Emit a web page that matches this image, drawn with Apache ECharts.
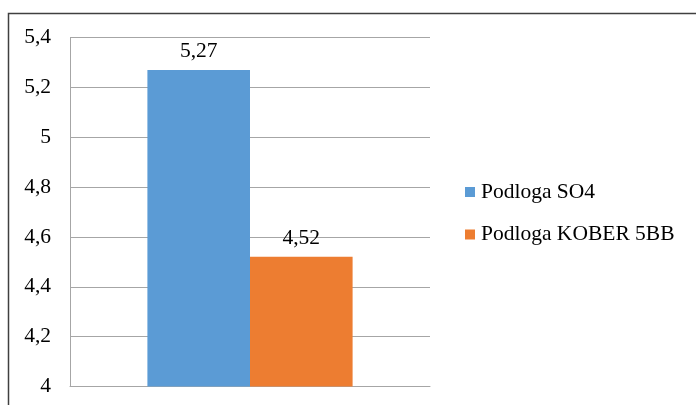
<!DOCTYPE html>
<html><head><meta charset="utf-8">
<script src="https://cdn.jsdelivr.net/npm/echarts@6/dist/echarts.min.js"></script>
<style>html,body{margin:0;padding:0;background:#fff}#c{width:696px;height:405px}</style>
</head><body><div id="c"></div>
<script>
const categories = ['Podloga'];
const seriesNames = ['Podloga SO4', 'Podloga KOBER 5BB'];
const so4Values = [5.27];
const koberValues = [4.52];
const colors = ['#5b9bd5', '#ed7d31'];

const chart = echarts.init(document.getElementById('c'), null, {renderer: 'canvas'});
const font = '"Liberation Serif", "Times New Roman", serif';
const fs = 21.5;
const fmt = v => String(v).replace('.', ',');
chart.setOption({
  animation: false,
  textStyle: {fontFamily: font},
  graphic: [{
    type: 'polyline', silent: true,
    shape: {points: [[8.5, 420], [8.5, 13.5], [700, 13.5]]},
    style: {stroke: '#404040', lineWidth: 1.5, fill: null}
  }],
  grid: {left: 70, right: 266, top: 37.5, bottom: 18.5, containLabel: false},
  legend: {
    orient: 'vertical', left: 460, top: 176, itemGap: 20.5,
    itemWidth: 10, itemHeight: 10, icon: 'rect',
    textStyle: {fontFamily: font, fontSize: fs, color: '#000', padding: [0, 0, 0, 1]},
    data: seriesNames
  },
  xAxis: {
    type: 'category', data: categories,
    axisLine: {lineStyle: {color: '#a6a6a6'}},
    axisTick: {show: false}, axisLabel: {show: false}
  },
  yAxis: {
    type: 'value', min: 4, max: 5.4, interval: 0.2,
    axisLine: {show: true, lineStyle: {color: '#a6a6a6'}},
    axisTick: {show: false},
    splitLine: {lineStyle: {color: '#a6a6a6'}},
    axisLabel: {fontFamily: font, fontSize: fs, color: '#000', margin: 19,
      formatter: v => fmt(Math.round(v * 10) / 10)}
  },
  series: [
    {name: seriesNames[0], type: 'bar', data: so4Values, barGap: '0%', barCategoryGap: '43%',
     itemStyle: {color: colors[0]},
     label: {show: true, position: 'top', distance: 8, fontFamily: font, fontSize: fs, color: '#000', formatter: p => fmt(p.value)}},
    {name: seriesNames[1], type: 'bar', data: koberValues, barGap: '0%', barCategoryGap: '43%',
     itemStyle: {color: colors[1]},
     label: {show: true, position: 'top', distance: 8, fontFamily: font, fontSize: fs, color: '#000', formatter: p => fmt(p.value)}}
  ]
});
</script></body></html>
